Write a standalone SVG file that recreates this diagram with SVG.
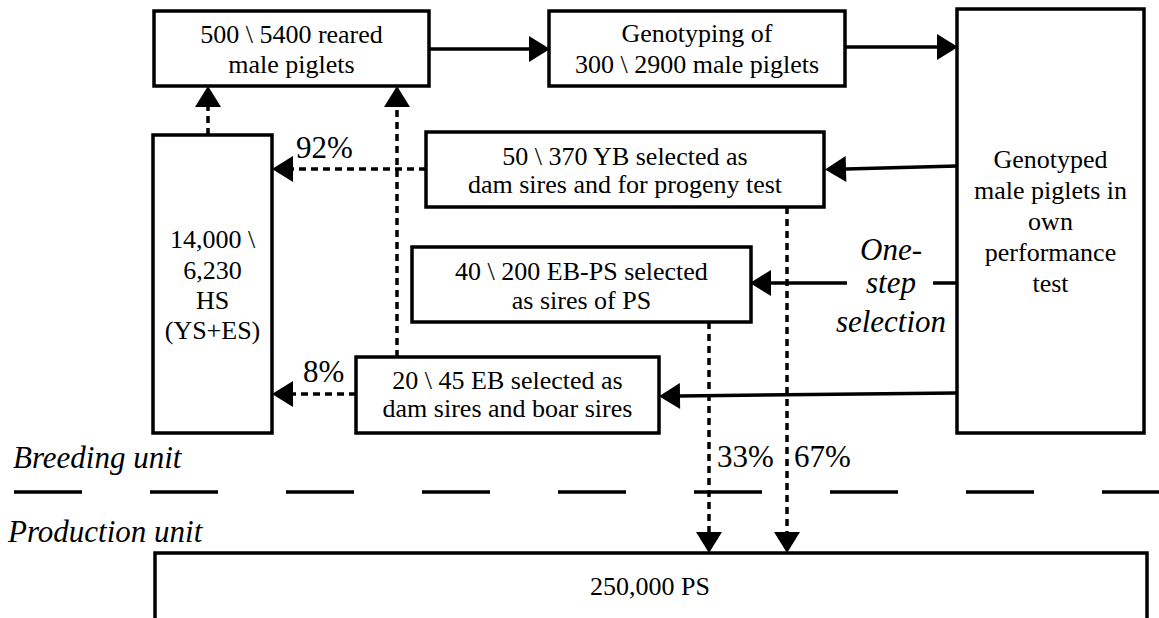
<svg xmlns="http://www.w3.org/2000/svg" width="1159" height="618" viewBox="0 0 1159 618">
  <style>
    .box { fill: #fff; stroke: #000; stroke-width: 3.5; }
    .open { fill: none; stroke: #000; stroke-width: 3.5; }
    .t { font-family: "Liberation Serif", serif; font-size: 26px; fill: #000; text-anchor: middle; }
    .big { font-family: "Liberation Serif", serif; font-size: 31px; fill: #000; }
    .it { font-style: italic; }
    .solid { fill: none; stroke: #000; stroke-width: 3.5; }
    .dot { fill: none; stroke: #000; stroke-width: 3.5; stroke-dasharray: 7 5; }
    .divider { fill: none; stroke: #000; stroke-width: 3.5; stroke-dasharray: 68 68; }
  </style>
  <defs>
    <marker id="head" markerUnits="userSpaceOnUse" markerWidth="22" markerHeight="28" refX="0" refY="13" orient="auto" overflow="visible">
      <path d="M0,0 L21,13 L0,26 Z" fill="#000"/>
    </marker>
  </defs>

  <rect width="1159" height="618" fill="#fff"/>

  <!-- breeding / production divider -->
  <line class="divider" x1="14" y1="492" x2="1159" y2="492"/>
  <text class="big it" x="13" y="468">Breeding unit</text>
  <text class="big it" x="8" y="542">Production unit</text>

  <g id="connectors">
    <!-- top row -->
    <line class="solid" x1="429" y1="49" x2="529" y2="49" marker-end="url(#head)"/>
    <line class="solid" x1="845" y1="47" x2="937" y2="47" marker-end="url(#head)"/>
    <!-- from the performance test to the selected groups -->
    <line class="solid" x1="957" y1="166" x2="846" y2="169" marker-end="url(#head)"/>
    <line class="solid" x1="957" y1="283" x2="933" y2="283"/>
    <line class="solid" x1="847" y1="283" x2="771" y2="283" marker-end="url(#head)"/>
    <line class="solid" x1="957" y1="393" x2="680" y2="396" marker-end="url(#head)"/>
    <!-- back to the herd and to rearing -->
    <line class="dot" x1="208" y1="135" x2="208" y2="107" marker-end="url(#head)"/>
    <line class="dot" x1="397" y1="357" x2="397" y2="107" marker-end="url(#head)"/>
    <line class="dot" x1="426" y1="169" x2="293" y2="169" marker-end="url(#head)"/>
    <line class="dot" x1="356" y1="394" x2="293" y2="394" marker-end="url(#head)"/>
    <!-- down to production -->
    <line class="dot" x1="709" y1="322" x2="709" y2="532" marker-end="url(#head)"/>
    <line class="dot" x1="787" y1="207" x2="787" y2="532" marker-end="url(#head)"/>
  </g>

  <!-- connector labels -->
  <text class="big" x="296" y="158">92%</text>
  <text class="big" x="303" y="382">8%</text>
  <text class="big" x="717" y="467">33%</text>
  <text class="big" x="794" y="467">67%</text>
  <text class="big it" text-anchor="middle" x="891" y="260">One-</text>
  <text class="big it" text-anchor="middle" x="891" y="293">step</text>
  <text class="big it" text-anchor="middle" x="891" y="332">selection</text>

  <g id="reared">
    <rect class="box" x="154" y="11" width="275" height="75"/>
    <text class="t" x="291.5" y="43">500 \ 5400 reared</text>
    <text class="t" x="291.5" y="73">male piglets</text>
  </g>

  <g id="genotyping">
    <rect class="box" x="549" y="11" width="296" height="75"/>
    <text class="t" x="697" y="42">Genotyping of</text>
    <text class="t" x="697" y="73">300 \ 2900 male piglets</text>
  </g>

  <g id="performance-test">
    <rect class="box" x="957" y="9" width="187" height="424"/>
    <text class="t" x="1050.5" y="168">Genotyped</text>
    <text class="t" x="1050.5" y="199">male piglets in</text>
    <text class="t" x="1050.5" y="230">own</text>
    <text class="t" x="1050.5" y="261">performance</text>
    <text class="t" x="1050.5" y="292">test</text>
  </g>

  <g id="herd">
    <rect class="box" x="153" y="135" width="119" height="298"/>
    <text class="t" x="212.5" y="248">14,000 \</text>
    <text class="t" x="212.5" y="279">6,230</text>
    <text class="t" x="212.5" y="309">HS</text>
    <text class="t" x="212.5" y="339">(YS+ES)</text>
  </g>

  <g id="young-boars">
    <rect class="box" x="426" y="132" width="398" height="75"/>
    <text class="t" x="625" y="165">50 \ 370 YB selected as</text>
    <text class="t" x="625" y="193">dam sires and for progeny test</text>
  </g>

  <g id="elite-ps">
    <rect class="box" x="412" y="247" width="339" height="75"/>
    <text class="t" x="581.5" y="280">40 \ 200 EB-PS selected</text>
    <text class="t" x="581.5" y="309">as sires of PS</text>
  </g>

  <g id="elite-boars">
    <rect class="box" x="356" y="357" width="303" height="76"/>
    <text class="t" x="507.5" y="389">20 \ 45 EB selected as</text>
    <text class="t" x="507.5" y="417">dam sires and boar sires</text>
  </g>

  <g id="production">
    <path class="open" d="M155,620 V553 H1147 V620"/>
    <text class="t" x="650" y="595">250,000 PS</text>
  </g>
</svg>
